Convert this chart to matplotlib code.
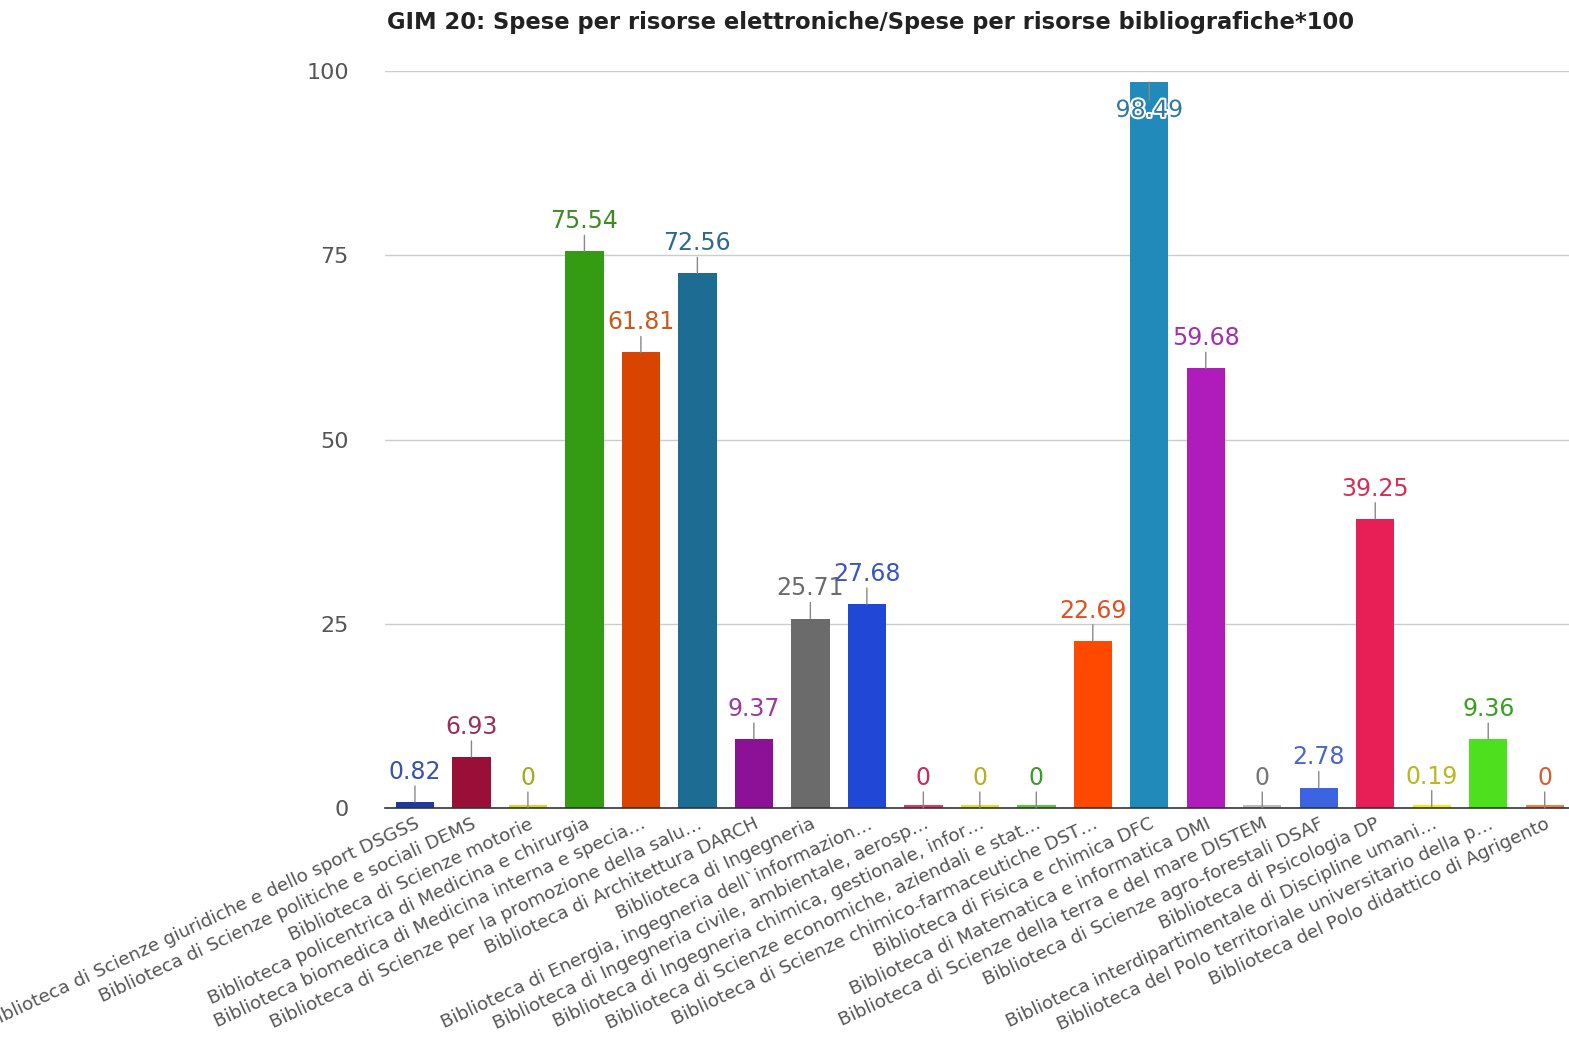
import matplotlib
matplotlib.use('Agg')
import matplotlib.pyplot as plt
import matplotlib.patheffects as pe

labels = [
    'Biblioteca di Scienze giuridiche e dello sport DSGSS',
    'Biblioteca di Scienze politiche e sociali DEMS',
    'Biblioteca di Scienze motorie',
    'Biblioteca policentrica di Medicina e chirurgia',
    'Biblioteca biomedica di Medicina interna e specia…',
    'Biblioteca di Scienze per la promozione della salu…',
    'Biblioteca di Architettura DARCH',
    'Biblioteca di Ingegneria',
    'Biblioteca di Energia, ingegneria dell`informazion…',
    'Biblioteca di Ingegneria civile, ambientale, aerosp…',
    'Biblioteca di Ingegneria chimica, gestionale, infor…',
    'Biblioteca di Scienze economiche, aziendali e stat…',
    'Biblioteca di Scienze chimico-farmaceutiche DST…',
    'Biblioteca di Fisica e chimica DFC',
    'Biblioteca di Matematica e informatica DMI',
    'Biblioteca di Scienze della terra e del mare DISTEM',
    'Biblioteca di Scienze agro-forestali DSAF',
    'Biblioteca di Psicologia DP',
    'Biblioteca interdipartimentale di Discipline umani…',
    'Biblioteca del Polo territoriale universitario della p…',
    'Biblioteca del Polo didattico di Agrigento',
]
values = [0.82, 6.93, 0, 75.54, 61.81, 72.56, 9.37, 25.71, 27.68, 0, 0, 0,
          22.69, 98.49, 59.68, 0, 2.78, 39.25, 0.19, 9.36, 0]
colors = ['#1a3aa0', '#9a0f38', '#d8d820', '#349c12', '#d94400', '#1c6c94',
          '#8c1196', '#6b6b6b', '#1f48d6', '#e8336a', '#e0e020', '#55cc33',
          '#ff4800', '#2289bb', '#b01bbb', '#bbbbbb', '#3c64e0', '#e81e57',
          '#f0f000', '#4ee01e', '#ff7a40']
text_colors = ['#3a55a8', '#9a3055', '#a8a820', '#3d8c22', '#c85a20', '#2f6a8c',
               '#9a3aa0', '#6b6b6b', '#3a55c0', '#c0305a', '#b0b020', '#3a9a2a',
               '#e05020', '#2f78a0', '#a030b0', '#777777', '#4a66c8', '#d0305a',
               '#b8b820', '#3aa020', '#d06030']

fig = plt.figure(figsize=(15.69, 10.37), dpi=100)
ax = fig.add_axes([385 / 1569, 1 - 808 / 1037, 1 - 385 / 1569, 737 / 1037])

x = list(range(len(values)))
heights = [v if v > 0.4 else 0.4 for v in values]
ax.bar(x, heights, width=0.68, color=colors, linewidth=0, zorder=3)

ax.set_xlim(-0.53, 20.43)
ax.set_ylim(0, 100)
ax.set_yticks([0, 25, 50, 75, 100])
ax.tick_params(axis='y', length=0, pad=26, labelsize=16, labelcolor='#555555')
ax.grid(axis='y', color='#cccccc', linewidth=1, zorder=0)
for s in ['top', 'right', 'left']:
    ax.spines[s].set_visible(False)
ax.spines['bottom'].set_color('#333333')
ax.spines['bottom'].set_linewidth(1.2)
ax.spines['bottom'].set_zorder(4)

ax.set_xticks(x)
ax.set_xticklabels(labels, rotation=25, ha='right', va='top', rotation_mode='anchor',
                   fontsize=13.2, color='#555555')
ax.tick_params(axis='x', length=0, pad=5)

line_style = dict(arrowstyle='-', color='#888888', lw=1, shrinkA=0, shrinkB=0)
for xi, v, tc in zip(x, values, text_colors):
    if v > 90:
        ax.annotate('', xy=(xi, v), xytext=(0, -13), textcoords='offset points',
                    arrowprops=line_style, zorder=5)
        t = ax.annotate(f'{v:g}', xy=(xi, v), xytext=(0, -20), textcoords='offset points',
                        ha='center', va='center', fontsize=17, color=tc, zorder=6)
        t.set_path_effects([pe.withStroke(linewidth=3, foreground='white')])
    else:
        ax.annotate('', xy=(xi, v), xytext=(0, 11.5), textcoords='offset points',
                    arrowprops=line_style, zorder=5)
        ax.annotate(f'{v:g}', xy=(xi, v), xytext=(0, 13), textcoords='offset points',
                    ha='center', va='bottom', fontsize=17, color=tc, zorder=6)

fig.text(387 / 1569, 1 - 22 / 1037, 'GIM 20: Spese per risorse elettroniche/Spese per risorse bibliografiche*100',
         fontsize=16.3, fontweight='bold', color='#222222', va='center', ha='left')

fig.savefig('out.png', dpi=100)
